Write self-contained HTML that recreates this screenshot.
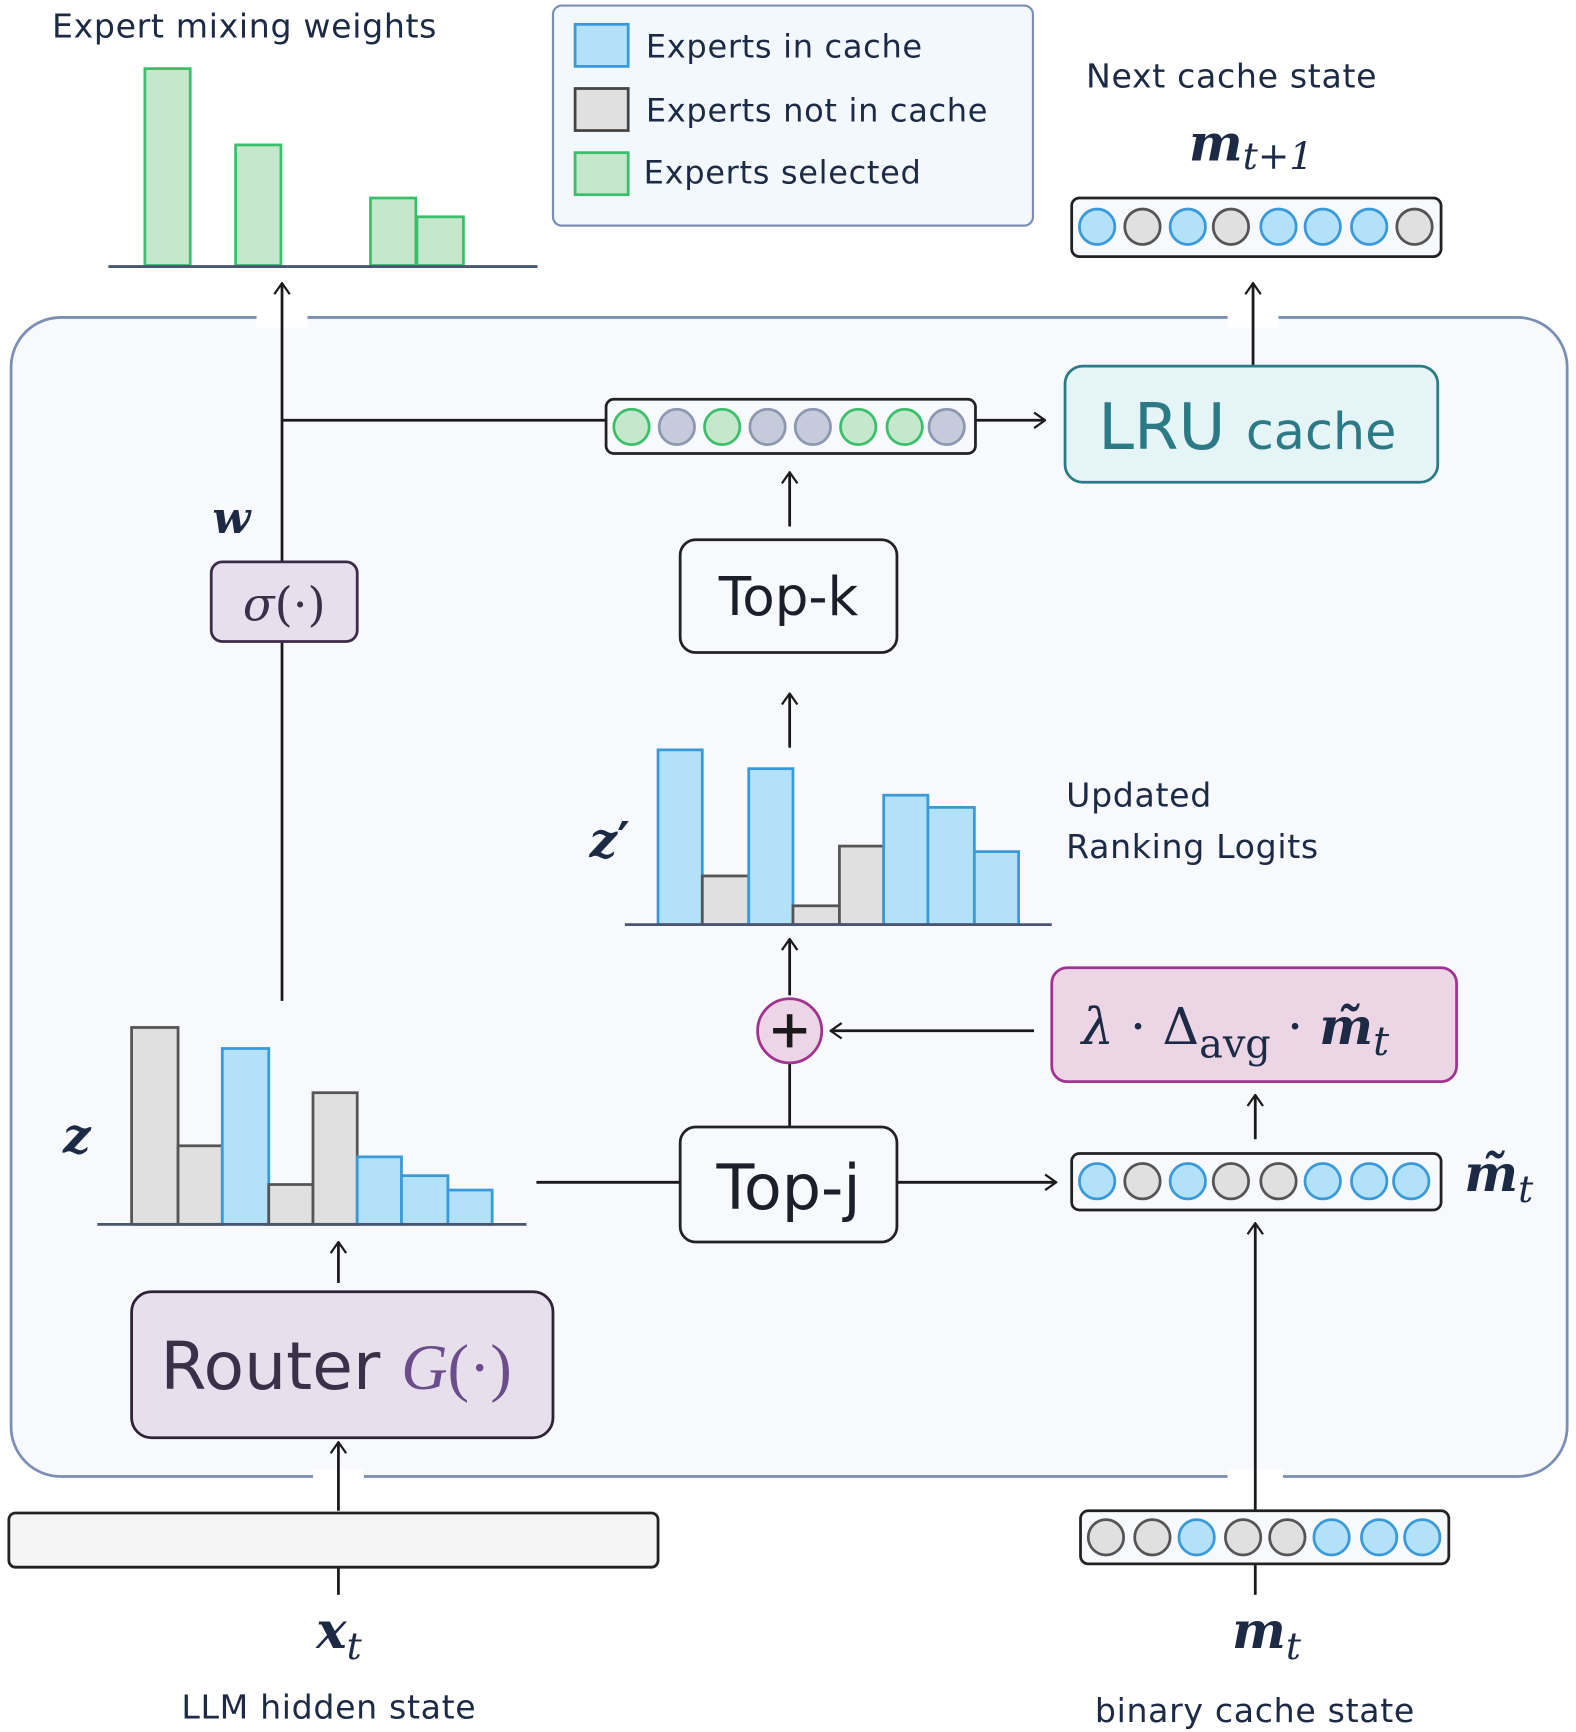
<!DOCTYPE html>
<html><head><meta charset="utf-8"><style>
html,body{margin:0;padding:0;background:#fff;}
svg{display:block;}
.s{font-family:"DejaVu Sans","Liberation Sans",sans-serif;fill:#1c2a45;letter-spacing:0.6px;}
.m{font-family:"DejaVu Serif","Liberation Serif",serif;font-style:italic;font-weight:bold;fill:#1c2a45;}
</style></head><body>
<svg width="1576" height="1732" viewBox="0 0 1425 1566" xmlns="http://www.w3.org/2000/svg">
<defs>
<marker id="a" viewBox="0 0 12 16" refX="11" refY="8" markerWidth="12" markerHeight="16" markerUnits="userSpaceOnUse" orient="auto">
<path d="M1,1 L11,8 L1,15" fill="none" stroke="#1a1a1a" stroke-width="2"/></marker>
</defs>
<rect x="10" y="287" width="1407" height="1048" rx="45" fill="#f7f9fc" stroke="#7b8fb5" stroke-width="2.5"/>
<rect x="232" y="280" width="46" height="16" fill="#fff"/>
<rect x="1110" y="280" width="46" height="16" fill="#fff"/>
<rect x="283" y="1328" width="46" height="14" fill="#fff"/>
<rect x="1110" y="1328" width="50" height="14" fill="#fff"/>

<text x="47" y="34" class="s" font-size="30">Expert mixing weights</text>
<g fill="#c5e8cc" stroke="#3cbf6a" stroke-width="2.5">
<rect x="131" y="62" width="41" height="178"/><rect x="213" y="131" width="41" height="109"/>
<rect x="335" y="179" width="41" height="61"/><rect x="377" y="196" width="42" height="44"/></g>
<line x1="98" y1="241" x2="486" y2="241" stroke="#4a5570" stroke-width="2.5"/>

<rect x="500" y="5" width="434" height="199" rx="8" fill="#f3f8fc" stroke="#7b8fb5" stroke-width="2"/>
<rect x="520" y="22" width="48" height="38" fill="#b3e2f8" stroke="#3a9ad9" stroke-width="2.5"/>
<rect x="520" y="80" width="48" height="38" fill="#e0e0e0" stroke="#444" stroke-width="2.5"/>
<rect x="520" y="138" width="48" height="38" fill="#c5e8cc" stroke="#3cbf6a" stroke-width="2.5"/>
<text x="584" y="52" class="s" font-size="29">Experts in cache</text>
<text x="584" y="110" class="s" font-size="29">Experts not in cache</text>
<text x="582" y="166" class="s" font-size="29">Experts selected</text>

<text x="982" y="79" class="s" font-size="30">Next cache state</text>
<text x="1075" y="145" class="m" font-size="46">m<tspan font-size="34" dy="8" font-weight="normal">t+1</tspan></text>
<rect x="969" y="179" width="334" height="53" rx="7" fill="#f7f9fc" stroke="#222" stroke-width="2.5"/>
<g stroke-width="2.5">
<circle cx="992" cy="205" r="16" fill="#b3e2f8" stroke="#3a9ad9"/><circle cx="1033" cy="205" r="16" fill="#e0e0e0" stroke="#555"/>
<circle cx="1074" cy="205" r="16" fill="#b3e2f8" stroke="#3a9ad9"/><circle cx="1113" cy="205" r="16" fill="#e0e0e0" stroke="#555"/>
<circle cx="1156" cy="205" r="16" fill="#b3e2f8" stroke="#3a9ad9"/><circle cx="1196" cy="205" r="16" fill="#b3e2f8" stroke="#3a9ad9"/>
<circle cx="1238" cy="205" r="16" fill="#b3e2f8" stroke="#3a9ad9"/><circle cx="1279" cy="205" r="16" fill="#e0e0e0" stroke="#555"/></g>

<g stroke="#1a1a1a" stroke-width="2.5" fill="none">
<line x1="1133" y1="330" x2="1133" y2="256" marker-end="url(#a)"/>
<line x1="255" y1="905" x2="255" y2="256" marker-end="url(#a)"/>
<line x1="255" y1="380" x2="548" y2="380"/>
<line x1="882" y1="380" x2="945" y2="380" marker-end="url(#a)"/>
<line x1="714" y1="476" x2="714" y2="427" marker-end="url(#a)"/>
<line x1="714" y1="676" x2="714" y2="627" marker-end="url(#a)"/>
<line x1="714" y1="900" x2="714" y2="849" marker-end="url(#a)"/>
<line x1="714" y1="961" x2="714" y2="1019"/>
<line x1="935" y1="932" x2="751" y2="932" marker-end="url(#a)"/>
<line x1="1135" y1="1030" x2="1135" y2="990" marker-end="url(#a)"/>
<line x1="485" y1="1069" x2="615" y2="1069"/>
<line x1="811" y1="1069" x2="955" y2="1069" marker-end="url(#a)"/>
<line x1="1135" y1="1366" x2="1135" y2="1106" marker-end="url(#a)"/>
<line x1="1135" y1="1414" x2="1135" y2="1442"/>
<line x1="306" y1="1160" x2="306" y2="1123" marker-end="url(#a)"/>
<line x1="306" y1="1366" x2="306" y2="1304" marker-end="url(#a)"/>
<line x1="306" y1="1417" x2="306" y2="1442"/>
</g>

<rect x="548" y="361" width="334" height="49" rx="7" fill="#f7f9fc" stroke="#222" stroke-width="2.5"/>
<g stroke-width="2.5">
<circle cx="571" cy="386" r="16" fill="#c5e8cc" stroke="#3cbf6a"/><circle cx="612" cy="386" r="16" fill="#c5cbdb" stroke="#8d97b0"/>
<circle cx="653" cy="386" r="16" fill="#c5e8cc" stroke="#3cbf6a"/><circle cx="694" cy="386" r="16" fill="#c5cbdb" stroke="#8d97b0"/>
<circle cx="735" cy="386" r="16" fill="#c5cbdb" stroke="#8d97b0"/><circle cx="776" cy="386" r="16" fill="#c5e8cc" stroke="#3cbf6a"/>
<circle cx="818" cy="386" r="16" fill="#c5e8cc" stroke="#3cbf6a"/><circle cx="856" cy="386" r="16" fill="#c5cbdb" stroke="#8d97b0"/></g>

<rect x="963" y="331" width="337" height="105" rx="16" fill="#e4f4f7" stroke="#2b7a85" stroke-width="2.5"/>
<text x="993" y="406" font-family="'DejaVu Sans','Liberation Sans',sans-serif" fill="#2b7a85" font-size="58">LRU <tspan font-size="46">cache</tspan></text>

<text x="192" y="482" class="m" font-size="40">w</text>
<rect x="191" y="508" width="132" height="72" rx="10" fill="#e8dfed" stroke="#3b2a4a" stroke-width="2.5"/>
<text x="257" y="561" text-anchor="middle" font-family="'DejaVu Serif','Liberation Serif',serif" font-size="42" fill="#3b3048"><tspan font-style="italic">σ</tspan>(·)</text>

<rect x="615" y="488" width="196" height="102" rx="14" fill="#f7f9fc" stroke="#222" stroke-width="2.5"/>
<text x="713" y="556" text-anchor="middle" font-family="'DejaVu Sans','Liberation Sans',sans-serif" fill="#1a1f2a" font-size="48">Top-k</text>

<text x="533" y="775" class="m" font-size="44">z<tspan font-style="normal" font-family="'DejaVu Sans',sans-serif">′</tspan></text>
<g stroke-width="2.5">
<rect x="595" y="678" width="40" height="158" fill="#b3e2f8" stroke="#3a9ad9"/>
<rect x="635" y="792" width="42" height="44" fill="#e0e0e0" stroke="#555"/>
<rect x="677" y="695" width="40" height="141" fill="#b3e2f8" stroke="#3a9ad9"/>
<rect x="717" y="819" width="42" height="17" fill="#e0e0e0" stroke="#555"/>
<rect x="759" y="765" width="40" height="71" fill="#e0e0e0" stroke="#555"/>
<rect x="799" y="719" width="40" height="117" fill="#b3e2f8" stroke="#3a9ad9"/>
<rect x="839" y="730" width="42" height="106" fill="#b3e2f8" stroke="#3a9ad9"/>
<rect x="881" y="770" width="40" height="66" fill="#b3e2f8" stroke="#3a9ad9"/></g>
<line x1="565" y1="836" x2="951" y2="836" stroke="#4a5570" stroke-width="2.5"/>
<text x="964" y="729" class="s" font-size="30">Updated</text>
<text x="964" y="776" class="s" font-size="30">Ranking Logits</text>

<circle cx="714" cy="932" r="29" fill="#ecd5e6" stroke="#a0338f" stroke-width="2.5"/>
<path d="M714,917 V947 M699,932 H729" stroke="#1a1a1a" stroke-width="5"/>

<rect x="951" y="875" width="366" height="103" rx="14" fill="#ecd6e6" stroke="#a0338f" stroke-width="2.5"/>
<text x="978" y="944" font-family="'DejaVu Serif','Liberation Serif',serif" font-size="46" fill="#1c2a45"><tspan font-style="italic">λ</tspan> · Δ<tspan font-size="36" dy="12">avg</tspan><tspan dy="-12"> · </tspan><tspan font-style="italic" font-weight="bold">m̃</tspan><tspan font-style="italic" font-size="36" dy="10">t</tspan></text>

<rect x="615" y="1019" width="196" height="104" rx="14" fill="#f7f9fc" stroke="#222" stroke-width="2.5"/>
<text x="713" y="1093" text-anchor="middle" font-family="'DejaVu Sans','Liberation Sans',sans-serif" fill="#1a1f2a" font-size="56">Top-j</text>

<rect x="969" y="1043" width="334" height="51" rx="7" fill="#f7f9fc" stroke="#222" stroke-width="2.5"/>
<g stroke-width="2.5">
<circle cx="992" cy="1068" r="16" fill="#b3e2f8" stroke="#3a9ad9"/><circle cx="1033" cy="1068" r="16" fill="#e0e0e0" stroke="#555"/>
<circle cx="1074" cy="1068" r="16" fill="#b3e2f8" stroke="#3a9ad9"/><circle cx="1113" cy="1068" r="16" fill="#e0e0e0" stroke="#555"/>
<circle cx="1156" cy="1068" r="16" fill="#e0e0e0" stroke="#555"/><circle cx="1196" cy="1068" r="16" fill="#b3e2f8" stroke="#3a9ad9"/>
<circle cx="1238" cy="1068" r="16" fill="#b3e2f8" stroke="#3a9ad9"/><circle cx="1276" cy="1068" r="16" fill="#b3e2f8" stroke="#3a9ad9"/></g>
<text x="1324" y="1077" class="m" font-size="46">m̃<tspan font-size="34" dy="10" font-weight="normal">t</tspan></text>

<rect x="977" y="1366" width="333" height="48" rx="7" fill="#f7f9fc" stroke="#222" stroke-width="2.5"/>
<g stroke-width="2.5">
<circle cx="1000" cy="1390" r="16" fill="#e0e0e0" stroke="#555"/><circle cx="1042" cy="1390" r="16" fill="#e0e0e0" stroke="#555"/>
<circle cx="1082" cy="1390" r="16" fill="#b3e2f8" stroke="#3a9ad9"/><circle cx="1124" cy="1390" r="16" fill="#e0e0e0" stroke="#555"/>
<circle cx="1164" cy="1390" r="16" fill="#e0e0e0" stroke="#555"/><circle cx="1204" cy="1390" r="16" fill="#b3e2f8" stroke="#3a9ad9"/>
<circle cx="1247" cy="1390" r="16" fill="#b3e2f8" stroke="#3a9ad9"/><circle cx="1286" cy="1390" r="16" fill="#b3e2f8" stroke="#3a9ad9"/></g>
<text x="1114" y="1490" class="m" font-size="46">m<tspan font-size="34" dy="10" font-weight="normal">t</tspan></text>
<text x="990" y="1557" class="s" font-size="30">binary cache state</text>

<text x="57" y="1042" class="m" font-size="44">z</text>
<g stroke-width="2.5">
<rect x="119" y="929" width="42" height="178" fill="#e0e0e0" stroke="#555"/>
<rect x="161" y="1036" width="40" height="71" fill="#e0e0e0" stroke="#555"/>
<rect x="201" y="948" width="42" height="159" fill="#b3e2f8" stroke="#3a9ad9"/>
<rect x="243" y="1071" width="40" height="36" fill="#e0e0e0" stroke="#555"/>
<rect x="283" y="988" width="40" height="119" fill="#e0e0e0" stroke="#555"/>
<rect x="323" y="1046" width="40" height="61" fill="#b3e2f8" stroke="#3a9ad9"/>
<rect x="363" y="1063" width="42" height="44" fill="#b3e2f8" stroke="#3a9ad9"/>
<rect x="405" y="1076" width="40" height="31" fill="#b3e2f8" stroke="#3a9ad9"/></g>
<line x1="88" y1="1107" x2="476" y2="1107" stroke="#4a5570" stroke-width="2.5"/>

<rect x="119" y="1168" width="381" height="132" rx="18" fill="#e8dfed" stroke="#2e2238" stroke-width="2.5"/>
<text x="145" y="1256" font-family="'DejaVu Sans','Liberation Sans',sans-serif" font-size="60" fill="#3b3048">Router <tspan font-family="'Liberation Serif',serif" font-style="italic" fill="#6a4d8a" font-size="58">G</tspan><tspan font-family="'Liberation Serif',serif" fill="#6a4d8a" font-size="58">(·)</tspan></text>

<rect x="8" y="1368" width="587" height="49" rx="6" fill="#f5f5f5" stroke="#222" stroke-width="2.5"/>
<text x="286" y="1490" class="m" font-size="46">x<tspan font-size="34" dy="10" font-weight="normal">t</tspan></text>
<text x="164" y="1554" class="s" font-size="30">LLM hidden state</text>
</svg>
</body></html>
